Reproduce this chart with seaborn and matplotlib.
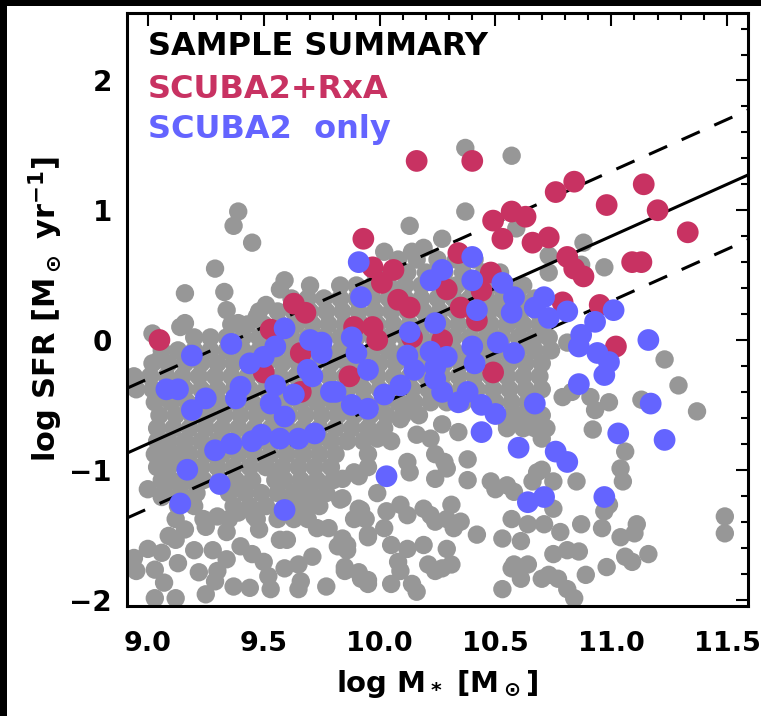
"""Sample summary: star formation rate against stellar mass"""
import matplotlib

matplotlib.use("Agg")
from matplotlib import pyplot as plt
from matplotlib.patches import Rectangle
from matplotlib.ticker import MultipleLocator
from pandas import DataFrame
import seaborn as sns

# main sequence (solid) and +-0.5 dex (dashed)
ms_slope = 0.8
ms_pivot = (10.0, 0.0)
ms_width = 0.5

# parent sample, dense part: one list of log M* per log SFR level
gray_row_sfr = [0.62, 0.52, 0.42, 0.32, 0.22, 0.12, 0.02, -0.08, -0.18, -0.28,
                -0.38, -0.48, -0.58, -0.68, -0.78, -0.88, -0.98, -1.08, -1.18,
                -1.28, -1.38]
gray_row_mass = [
    [10.08, 10.16, 10.25, 10.33, 10.41],
    [9.98, 10.05, 10.12, 10.2, 10.28, 10.36, 10.45, 10.52],
    [9.7, 9.83, 9.9, 9.97, 10.04, 10.11, 10.18, 10.26, 10.33, 10.4, 10.48,
     10.55, 10.62],
    [9.62, 9.69, 9.76, 9.83, 9.9, 9.97, 10.04, 10.11, 10.18, 10.25, 10.32,
     10.39, 10.46, 10.53, 10.6, 10.67],
    [9.48, 9.56, 9.63, 9.7, 9.77, 9.84, 9.91, 9.98, 10.05, 10.12, 10.19,
     10.26, 10.33, 10.4, 10.47, 10.54, 10.61, 10.68],
    [9.36, 9.43, 9.5, 9.57, 9.64, 9.71, 9.78, 9.85, 9.92, 9.99, 10.06, 10.13,
     10.2, 10.27, 10.34, 10.41, 10.48, 10.55, 10.62, 10.69],
    [9.2, 9.27, 9.34, 9.41, 9.48, 9.55, 9.62, 9.69, 9.76, 9.83, 9.9, 9.97,
     10.04, 10.11, 10.18, 10.25, 10.32, 10.39, 10.46, 10.53, 10.6, 10.67,
     10.73],
    [9.06, 9.13, 9.2, 9.27, 9.34, 9.41, 9.48, 9.55, 9.62, 9.69, 9.76, 9.83,
     9.9, 9.97, 10.04, 10.11, 10.18, 10.25, 10.32, 10.39, 10.46, 10.53, 10.6,
     10.67, 10.74],
    [9.02, 9.09, 9.16, 9.23, 9.3, 9.37, 9.44, 9.51, 9.58, 9.65, 9.72,
     9.79, 9.86, 9.93, 10.0, 10.07, 10.14, 10.21, 10.28, 10.35, 10.42, 10.49,
     10.56, 10.63, 10.7],
    [8.94, 9.01, 9.08, 9.15, 9.22, 9.29, 9.36, 9.43, 9.5, 9.57, 9.64, 9.71,
     9.78, 9.85, 9.92, 9.99, 10.06, 10.13, 10.2, 10.27, 10.34, 10.41, 10.48,
     10.55, 10.62, 10.69],
    [8.95, 9.02, 9.09, 9.16, 9.23, 9.3, 9.37, 9.44, 9.51, 9.58, 9.65, 9.72,
     9.79, 9.86, 9.93, 10.0, 10.07, 10.14, 10.21, 10.28, 10.35, 10.42, 10.49,
     10.56, 10.63, 10.7],
    [9.03, 9.1, 9.17, 9.24, 9.31, 9.38, 9.45, 9.52, 9.59, 9.66, 9.73, 9.8,
     9.87, 9.94, 10.01, 10.08, 10.15, 10.22, 10.29, 10.36, 10.43, 10.5, 10.57,
     10.64],
    [9.05, 9.12, 9.19, 9.26, 9.33, 9.4, 9.47, 9.54, 9.61, 9.68, 9.75, 9.82,
     9.89, 9.96, 10.03, 10.1, 10.17, 10.5, 10.57, 10.64, 10.7],
    [9.04, 9.11, 9.18, 9.25, 9.32, 9.39, 9.46, 9.53, 9.6, 9.67, 9.74, 9.81,
     9.88, 9.95, 10.02, 10.55, 10.62],
    [9.04, 9.09, 9.16, 9.23, 9.3, 9.37, 9.44, 9.51, 9.58, 9.65, 9.72, 9.79,
     9.86, 9.93],
    [9.03, 9.08, 9.13, 9.18, 9.25, 9.32, 9.39, 9.46, 9.53, 9.6, 9.67, 9.74,
     9.81],
    [9.04, 9.09, 9.16, 9.23, 9.3, 9.37, 9.44, 9.51, 9.58, 9.65, 9.72, 9.79],
    [9.06, 9.1, 9.17, 9.24, 9.31, 9.38, 9.45, 9.55, 9.59, 9.66, 9.73, 9.8],
    [9.07, 9.14, 9.21, 9.35, 9.42, 9.49, 9.56, 9.63, 9.7, 9.77],
    [9.13, 9.2, 9.37, 9.44, 9.51, 9.6, 9.67, 9.74],
    [9.12, 9.24, 9.35, 9.47, 9.56, 9.69],
]

# parent sample, isolated points (log M*, log SFR)
gray_points = [
    (9.39, 0.99), (9.37, 0.88), (9.45, 0.75), (9.29, 0.55), (9.16, 0.36),
    (9.33, 0.37), (9.59, 0.46), (9.57, 0.39), (9.34, 0.23), (9.16, 0.13),
    (9.14, 0.10), (9.39, 0.13), (9.47, 0.18), (9.51, 0.27), (9.02, 0.05),
    (9.05, -0.15), (10.37, 1.48), (10.57, 1.42), (10.37, 0.99), (10.13, 0.88),
    (10.27, 0.78), (10.02, 0.68), (10.14, 0.68), (10.19, 0.71), (10.59, 0.86),
    (10.51, 0.25), (10.66, 0.0), (10.88, 0.75), (10.73, 0.65), (10.73, 0.52),
    (10.87, 0.58), (10.97, 0.56), (10.81, -0.02), (11.23, -0.15),
    (11.29, -0.35), (11.37, -0.55), (11.13, -0.46), (10.99, -0.48),
    (10.93, -0.54), (10.91, -0.44), (10.79, -0.44), (10.83, -0.40),
    (10.92, -0.69), (11.06, -0.86), (11.04, -0.99), (11.05, -1.09),
    (10.72, -0.68), (10.70, -1.0), (10.75, -1.09), (10.85, -1.09),
    (10.75, -1.30), (10.71, -1.42), (10.78, -1.48), (10.87, -1.42),
    (10.97, -1.32), (10.96, -1.45), (10.99, -1.27), (11.04, -1.52),
    (11.11, -1.42), (11.10, -1.49), (11.16, -1.65), (11.06, -1.67),
    (11.09, -1.71), (10.98, -1.75), (10.89, -1.81), (10.75, -1.65),
    (10.81, -1.62), (10.86, -1.63), (10.73, -1.81), (10.77, -1.84),
    (10.81, -1.92), (10.84, -1.99), (11.49, -1.36), (11.49, -1.49),
    (10.12, -0.50), (10.09, -0.61), (10.27, -0.65), (10.16, -0.73),
    (10.22, -0.76), (10.34, -0.71), (10.24, -0.88), (10.28, -0.94),
    (10.38, -0.92), (10.29, -0.99), (10.12, -0.94), (10.13, -1.02),
    (10.24, -1.07), (10.38, -1.08), (9.99, -0.76), (10.05, -0.78),
    (9.95, -0.88), (9.89, -1.02), (9.84, -1.07), (9.99, -1.18),
    (9.84, -1.22), (9.91, -1.30), (9.89, -1.38), (9.95, -1.50),
    (9.86, -1.58), (9.84, -1.53), (9.85, -1.78), (9.92, -1.84),
    (9.95, -1.88), (10.03, -1.32), (10.02, -1.45), (10.05, -1.58),
    (10.09, -1.27), (10.12, -1.35), (10.12, -1.61), (10.08, -1.71),
    (10.09, -1.78), (10.14, -1.88), (10.05, -1.88), (10.19, -1.30),
    (10.22, -1.35), (10.24, -1.40), (10.31, -1.27), (10.29, -1.38),
    (10.35, -1.40), (10.32, -1.45), (10.42, -1.50), (10.19, -1.58),
    (10.29, -1.61), (10.21, -1.73), (10.24, -1.78), (10.27, -1.76),
    (10.31, -1.73), (10.16, -1.94), (10.48, -1.09), (10.50, -1.15),
    (10.55, -1.12), (10.58, -1.17), (10.57, -1.38), (10.53, -1.53),
    (10.64, -1.42), (10.61, -1.55), (10.57, -1.76), (10.58, -1.73),
    (10.64, -1.73), (10.61, -1.84), (10.53, -1.92), (10.68, -1.02),
    (10.66, -1.09), (10.70, -1.84), (10.55, -0.65), (10.61, -0.58),
    (10.67, -0.68), (10.70, -0.76), (8.95, -1.78), (9.03, -1.77),
    (9.07, -1.87), (9.06, -1.64), (9.12, -1.54), (9.13, -1.72),
    (9.20, -1.62), (9.22, -1.79), (9.28, -1.62), (9.30, -1.78),
    (9.34, -1.69), (9.37, -1.90), (9.34, -1.48), (9.40, -1.59),
    (9.45, -1.65), (9.44, -1.91), (9.50, -1.71), (9.52, -1.82),
    (9.53, -1.92), (9.48, -1.46), (9.57, -1.54), (9.60, -1.54),
    (9.65, -1.73), (9.65, -1.92), (9.71, -1.67), (9.73, -1.45),
    (9.78, -1.45), (9.77, -1.90), (9.82, -1.59), (9.85, -1.75),
    (9.86, -1.62), (9.92, -1.31), (9.94, -1.38), (9.95, -1.52),
    (9.91, -1.79), (9.95, -1.85), (9.83, -1.23), (9.72, -1.26),
    (9.66, -1.28), (9.63, -1.38), (9.46, -1.36), (9.39, -1.33),
    (9.30, -1.36), (9.25, -1.44), (9.16, -1.46), (9.09, -1.51),
    (9.00, -1.15), (9.06, -1.21), (9.95, -0.98), (9.91, -1.05),
    (9.00, -1.61), (8.94, -1.68), (9.12, -1.99), (9.03, -1.99),
    (9.25, -1.96), (9.29, -1.86), (9.59, -1.76), (9.66, -1.86),
]

# SCUBA2 sources with RxA follow-up (log M*, log SFR)
rxa_points = [
    (9.05, 0.0), (9.63, 0.28), (9.68, 0.21), (9.53, 0.08), (9.66, -0.10),
    (9.50, -0.25), (9.66, -0.40), (10.16, 1.38), (10.40, 1.38), (9.93, 0.78),
    (10.49, 0.92), (10.57, 0.99), (10.63, 0.95), (10.53, 0.78), (10.66, 0.75),
    (10.34, 0.67), (9.97, 0.56), (10.06, 0.54), (10.01, 0.44), (10.29, 0.39),
    (10.08, 0.31), (10.13, 0.25), (10.48, 0.52), (10.44, 0.38), (10.35, 0.25),
    (10.42, 0.15), (9.89, 0.10), (9.97, 0.10), (9.99, 0.0), (10.14, 0.02),
    (10.27, 0.0), (10.49, -0.25), (9.87, -0.28), (10.76, 1.14), (10.84, 1.22),
    (11.14, 1.20), (10.98, 1.04), (11.20, 1.0), (11.33, 0.83), (10.73, 0.79),
    (10.81, 0.64), (10.84, 0.55), (10.88, 0.49), (11.09, 0.60), (11.13, 0.60),
    (10.95, 0.27), (10.79, 0.29), (11.02, -0.05),
]

# SCUBA2 only (log M*, log SFR)
only_points = [
    (9.19, -0.12), (9.36, -0.03), (9.59, 0.09), (9.70, 0.0), (9.75, -0.02),
    (9.75, -0.10), (9.55, -0.05), (9.50, -0.13), (9.44, -0.18), (9.69, -0.23),
    (9.91, 0.60), (9.92, 0.33), (10.40, 0.64), (10.27, 0.54), (10.22, 0.46),
    (10.40, 0.46), (10.53, 0.44), (10.58, 0.33), (10.42, 0.23), (10.57, 0.21),
    (10.67, 0.25), (10.24, 0.13), (10.13, 0.06), (9.88, 0.02), (9.90, -0.10),
    (9.95, -0.23), (10.12, -0.12), (10.22, -0.09), (10.29, -0.13),
    (10.40, -0.05), (10.51, -0.02), (10.58, -0.10), (10.41, -0.18),
    (10.24, -0.21), (10.15, -0.23), (10.71, 0.33), (10.81, 0.22),
    (10.73, 0.17), (11.01, 0.23), (10.93, 0.14), (10.87, 0.04),
    (10.86, -0.05), (10.94, -0.10), (10.99, -0.17), (11.16, 0.0),
    (9.08, -0.38), (9.13, -0.38), (9.19, -0.54), (9.25, -0.45), (9.40, -0.36),
    (9.38, -0.45), (9.55, -0.35), (9.53, -0.49), (9.59, -0.59), (9.63, -0.42),
    (9.71, -0.28), (9.79, -0.40), (9.29, -0.85), (9.36, -0.80), (9.45, -0.78),
    (9.49, -0.73), (9.57, -0.76), (9.65, -0.76), (9.72, -0.72), (9.17, -1.0),
    (9.31, -1.11), (9.14, -1.26), (9.59, -1.31), (10.03, -1.05),
    (10.44, -0.71), (10.60, -0.83), (10.67, -0.49), (10.64, -1.25),
    (10.71, -1.21), (10.50, -0.57), (10.44, -0.50), (10.38, -0.40),
    (10.34, -0.48), (10.27, -0.40), (10.24, -0.30), (9.95, -0.53),
    (9.88, -0.50), (10.02, -0.42), (10.09, -0.35), (9.81, -0.40),
    (10.86, -0.34), (10.97, -0.27), (11.17, -0.49), (11.03, -0.72),
    (11.23, -0.77), (10.76, -0.86), (10.81, -0.94), (10.97, -1.21),
]

legend_labels = ["SAMPLE SUMMARY", "SCUBA2+RxA", "SCUBA2  only"]

GRAY = "#979797"
RED = "#c83262"
BLUE = "#6464ff"

sns.set_style("white")
plt.rcParams["font.family"] = ["DejaVu Sans"]
plt.rcParams["font.weight"] = "bold"
plt.rcParams["axes.labelweight"] = "bold"
plt.rcParams["mathtext.default"] = "bf"
for key in ("text.color", "axes.labelcolor", "xtick.color", "ytick.color",
            "axes.edgecolor"):
    plt.rcParams[key] = "black"

gray = DataFrame(
    [(m, s) for s, row in zip(gray_row_sfr, gray_row_mass) for m in row] + gray_points,
    columns=["logM", "logSFR"],
)
rxa = DataFrame(rxa_points, columns=["logM", "logSFR"])
only = DataFrame(only_points, columns=["logM", "logSFR"])

fig = plt.figure(figsize=(7.61, 7.16), dpi=100)
fig.patch.set_facecolor("black")
fig.add_artist(Rectangle((7 / 761, 0), 1, 1 - 6 / 716, transform=fig.transFigure,
                         facecolor="white", edgecolor="none", zorder=-1))
ax = fig.add_axes([127 / 761, 1 - 606 / 716, 621 / 761, 593 / 716])

sns.scatterplot(data=gray, x="logM", y="logSFR", color=GRAY, s=175,
                edgecolor="none", linewidth=0, zorder=1, ax=ax)
ax.axline(ms_pivot, slope=ms_slope, color="black", lw=2.2, zorder=2)
for sign in (1, -1):
    ax.axline((ms_pivot[0], ms_pivot[1] + sign * ms_width), slope=ms_slope,
              color="black", lw=2.2, dashes=(6.5, 5.2), zorder=2)
sns.scatterplot(data=rxa, x="logM", y="logSFR", color=RED, s=245,
                edgecolor="none", linewidth=0, zorder=3, ax=ax)
sns.scatterplot(data=only, x="logM", y="logSFR", color=BLUE, s=245,
                edgecolor="none", linewidth=0, zorder=4, ax=ax)

ax.set_xlim(8.91, 11.59)
ax.set_ylim(-2.05, 2.52)
ax.xaxis.set_major_locator(MultipleLocator(0.5))
ax.xaxis.set_minor_locator(MultipleLocator(0.1))
ax.yaxis.set_major_locator(MultipleLocator(1))
ax.yaxis.set_minor_locator(MultipleLocator(0.2))
ax.tick_params(which="both", direction="in", top=True, right=True,
               width=1.5, color="black")
ax.tick_params(which="major", length=9)
ax.tick_params(which="minor", length=5)
ax.tick_params(axis="x", labelsize=19.5, pad=18)
ax.tick_params(axis="y", labelsize=20, pad=11)
for spine in ax.spines.values():
    spine.set_linewidth(2.2)
    spine.set_color("black")

ax.set_xlabel(r"log M$_*$ [M$_\odot$]", fontsize=21)
ax.set_ylabel(r"log SFR [M$_\odot$ yr$^{-1}$]", fontsize=22)
ax.xaxis.set_label_coords(0.5, -0.105)
ax.yaxis.set_label_coords(-0.1, 0.5)

for label, color, y in zip(legend_labels, ["black", RED, BLUE], [0.929, 0.856, 0.789]):
    ax.text(0.034, y, label, color=color, fontsize=23, fontweight="bold",
            transform=ax.transAxes, ha="left", va="baseline")

fig.savefig("out.png", dpi=100, facecolor=fig.get_facecolor())
